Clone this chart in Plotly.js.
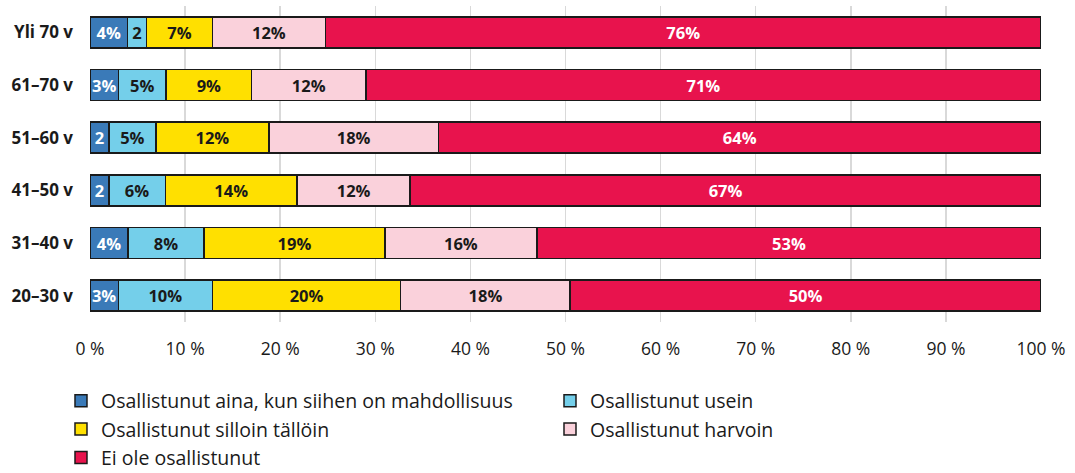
<!DOCTYPE html>
<html>
<head>
<meta charset="utf-8">
<script src="https://cdn.plot.ly/plotly-3.0.1.min.js"></script>
<style>html,body{margin:0;padding:0;background:#fff;}#chart{width:1075px;height:473px;}</style>
</head>
<body>
<div id="chart"></div>
<script>
const categories = ["20–30 v", "31–40 v", "41–50 v", "51–60 v", "61–70 v", "Yli 70 v"];
const seriesNames = [
  "Osallistunut aina, kun siihen on mahdollisuus",
  "Osallistunut usein",
  "Osallistunut silloin tällöin",
  "Osallistunut harvoin",
  "Ei ole osallistunut"
];
const aina    = [3, 4, 2, 2, 3, 4];
const usein   = [10, 8, 6, 5, 5, 2];
const silloin = [20, 19, 14, 12, 9, 7];
const harvoin = [18, 16, 12, 18, 12, 12];
const eiOle   = [50, 53, 67, 64, 71, 76];
const ainaLabels  = ["3%", "4%", "2", "2", "3%", "4%"];
const useinLabels = ["10%", "8%", "6%", "5%", "5%", "2"];

const values = [aina, usein, silloin, harvoin, eiOle];
const colors = ["#3A7AB8", "#74CFEA", "#FFE000", "#FAD1DB", "#E8134D"];
const textColors = ["#ffffff", "#1a1a1a", "#1a1a1a", "#1a1a1a", "#ffffff"];
const legendOf = ["legend", "legend2", "legend", "legend2", "legend"];
const FONT = "'Open Sans', sans-serif";

const traces = values.map((vals, i) => ({
  type: "bar",
  orientation: "h",
  name: seriesNames[i],
  legend: legendOf[i],
  y: categories,
  x: vals,
  text: i === 0 ? ainaLabels : (i === 1 ? useinLabels : vals.map(v => v + "%")),
  textposition: "inside",
  insidetextanchor: "middle",
  textangle: 0,
  constraintext: "none",
  textfont: {family: FONT, size: 16.5, color: textColors[i], weight: "bold"},
  marker: {color: colors[i], line: {color: "#1a1a1a", width: 1.5}},
  hoverinfo: "skip"
}));

const legendBase = {
  orientation: "v",
  xref: "paper", yref: "container",
  xanchor: "left",
  y: 0.1934, yanchor: "top",
  traceorder: "normal",
  itemwidth: 30,
  font: {family: FONT, size: 19.5, color: "#1a1a1a"},
  bgcolor: "rgba(0,0,0,0)"
};

const layout = {
  width: 1075, height: 473,
  margin: {l: 90, r: 34, t: 6, b: 151},
  barmode: "stack",
  barnorm: "percent",
  bargap: 0.41,
  paper_bgcolor: "#ffffff",
  plot_bgcolor: "#ffffff",
  font: {family: FONT, color: "#1a1a1a"},
  uniformtext: {mode: "show", minsize: 16.5},
  xaxis: {
    range: [0, 100],
    dtick: 10,
    ticksuffix: " %",
    showgrid: true,
    gridcolor: "#d9d9d9",
    gridwidth: 1.5,
    zeroline: false,
    showline: false,
    ticks: "",
    ticklabelstandoff: 14,
    tickfont: {family: FONT, size: 17.5, color: "#1a1a1a"},
    fixedrange: true
  },
  yaxis: {
    type: "category",
    showgrid: false,
    showline: false,
    ticks: "",
    ticklabelstandoff: 16,
    tickfont: {family: FONT, size: 17, color: "#1a1a1a", weight: "bold"},
    fixedrange: true
  },
  showlegend: true,
  legend: Object.assign({}, legendBase, {x: -0.0305}),
  legend2: Object.assign({}, legendBase, {x: 0.4837})
};

Plotly.newPlot("chart", traces, layout, {displayModeBar: false, staticPlot: true});
</script>
</body>
</html>
